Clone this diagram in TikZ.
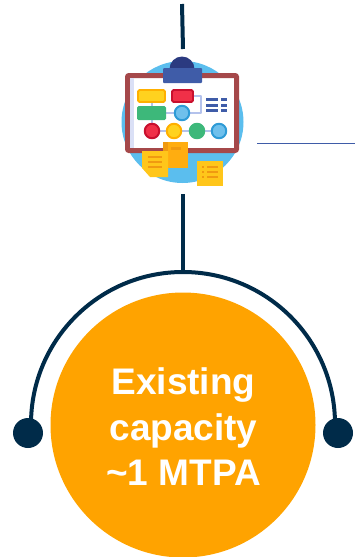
\documentclass[tikz,border=0pt]{standalone}
\usepackage{fontspec}
\setmainfont{Liberation Sans}
\usetikzlibrary{positioning}
\definecolor{navy}{HTML}{002B49}
\definecolor{amber}{HTML}{FFA300}
\definecolor{skyicon}{HTML}{5BBEEE}
\definecolor{boardred}{HTML}{A5484A}
\definecolor{clipblue}{HTML}{3F5CA8}
\definecolor{clipdark}{HTML}{2B3A80}
\definecolor{paleline}{HTML}{B4C2EC}
\definecolor{stickyy}{HTML}{FFC61A}
\definecolor{stickyo}{HTML}{FFAD10}
\definecolor{stickyl}{HTML}{F09A10}
\definecolor{flowyellow}{HTML}{FFD21F}
\definecolor{flowamber}{HTML}{FFB000}
\definecolor{flowred}{HTML}{F03048}
\definecolor{flowcrimson}{HTML}{C8102E}
\definecolor{flowgreen}{HTML}{3DB87A}
\definecolor{flowsky}{HTML}{6FC0EC}
\definecolor{flowblue}{HTML}{2E9BD6}
\tikzset{
    navyline/.style={draw=navy,line width=4pt},
    enddot/.style={circle,fill=navy,minimum size=30pt,inner sep=0pt},
    flowbox/.style={rounded corners=1.5pt,line width=1.8pt},
    flowdot/.style={circle,minimum size=14.5pt,inner sep=0pt,line width=2pt},
    listbar/.style={clipblue,line width=3pt},
    linkline/.style={paleline,line width=2.4pt},
    noteline/.style={stickyl,line width=1.6pt}
}
\begin{document}
\begin{tikzpicture}[line join=round,x=1pt,y=-1pt]
    \useasboundingbox (0,0) rectangle (355,557);

    % Capacity circle and end dots
    \node[circle,fill=amber,minimum size=265pt,inner sep=0pt] (capacity) at (183,425) {};
    \node[align=center,text=white,font=\fontsize{37}{45.5}\selectfont\bfseries] (capacitytext) at (183.5,427) {Existing\\capacity\\\textasciitilde1 MTPA};
    \node[enddot] (leftdot) at (28,433) {};
    \node[enddot] (rightdot) at (338,433) {};
    \draw[navyline] (leftdot.center) ++(3,-9) arc (180:360:152);
    \coordinate (arctop) at (183,272);

    % Connectors
    \coordinate (linetop) at (182,4);
    \coordinate (iconabove) at (183,49);
    \coordinate (iconbelow) at (183,194);
    \coordinate (sideleft) at (257,143);
    \coordinate (sideright) at (355,143);
    \draw[navyline] (linetop) -- (iconabove);
    \draw[navyline] (iconbelow) -- (arctop);
    \draw[clipblue,line width=0.8pt] (sideleft) -- (sideright);

    % Board
    \fill[skyicon] (182.5,122) circle (61);
    \fill[clipdark] (182,69) circle (12.5);
    \draw[boardred,fill=white,line width=5pt,rounded corners=1pt] (127.5,75.5) rectangle (236.5,150.5);
    \fill[paleline!50] (130,78) rectangle (134,148);
    \fill[clipblue,rounded corners=1pt] (163,68) rectangle (202,83);

    % Flow chart
    \draw[linkline] (152,103) -- (152,131) -- (219,131);
    \draw[linkline] (166,113) -- (182,113);
    \draw[linkline] (194,96) -- (201,96) -- (201,113) -- (182,113);
    \draw[flowbox,draw=flowamber,fill=flowyellow] (138,90) rectangle (165,102);
    \draw[flowbox,draw=flowcrimson,fill=flowred] (172,90) rectangle (193,102);
    \fill[flowgreen,rounded corners=1.5pt] (137,106) rectangle (166,120);
    \node[flowdot,draw=flowblue,fill=flowsky] (dotone) at (182,113) {};
    \node[flowdot,draw=flowcrimson,fill=flowred] (dottwo) at (152,131) {};
    \node[flowdot,draw=flowamber,fill=flowyellow] (dotthree) at (174,131) {};
    \node[flowdot,draw=flowgreen,fill=flowgreen] (dotfour) at (197,131) {};
    \node[flowdot,draw=flowblue,fill=flowsky] (dotfive) at (219,131) {};
    \foreach \y in {99,105,110} {
        \draw[listbar] (206,\y) -- (218,\y);
        \draw[listbar] (221,\y) -- (227,\y);
    }

    % Sticky notes
    \fill[stickyo] (163,142) rectangle (188,168);
    \fill[stickyl] (163,142) rectangle (168,168);
    \fill[stickyl] (171,147) rectangle (181,150);
    \fill[stickyy] (142,151) -- (168,151) -- (168,177) -- (150,177) -- (142,168) -- cycle;
    \foreach \y in {157,162,167} {
        \draw[noteline] (148,\y) -- (162,\y);
    }
    \fill[stickyy] (197,161) rectangle (223,186);
    \foreach \y in {167,172,177} {
        \draw[noteline] (202,\y) -- (204,\y);
        \draw[noteline] (207,\y) -- (218,\y);
    }
\end{tikzpicture}
\end{document}
